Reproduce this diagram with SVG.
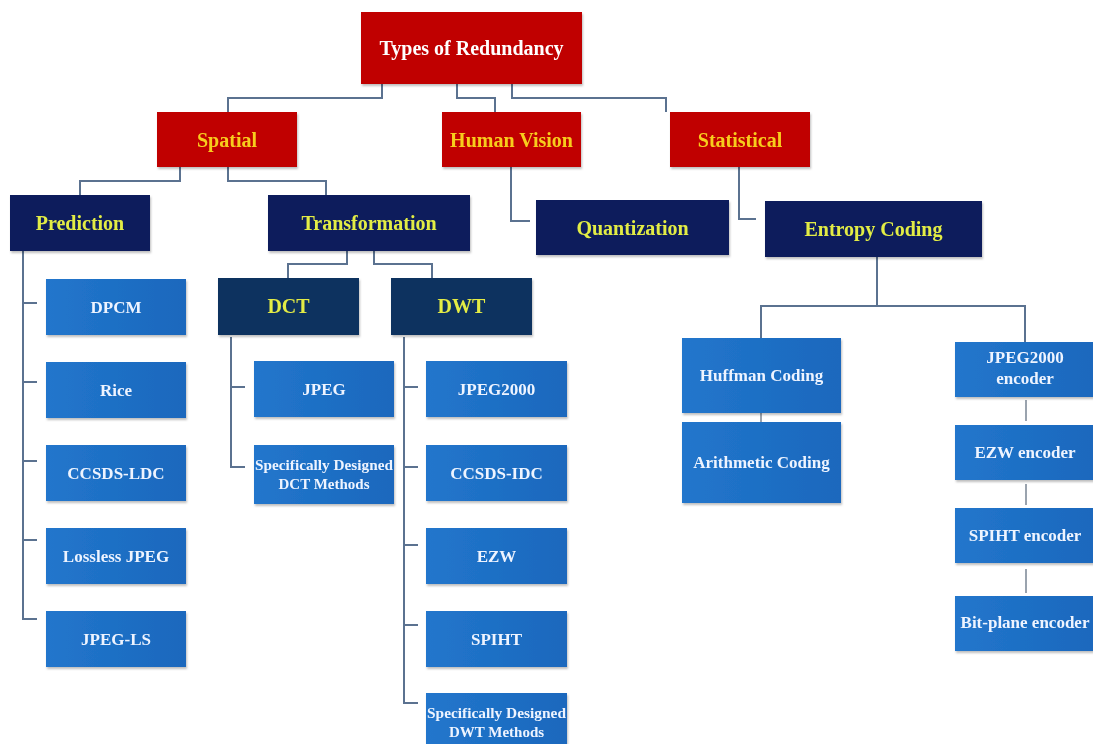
<svg xmlns="http://www.w3.org/2000/svg" width="1093" height="744" viewBox="0 0 1093 744">
<style>
text{font-family:"Liberation Serif","Times New Roman",serif;font-weight:bold;text-anchor:middle}
.red{fill:#C00000}
.navy{fill:#0B1F5B}
.dnavy{fill:#0E305F}
.leaf{fill:url(#lg)}
.t1{fill:#FFFFFF;font-size:20px}
.t2{fill:#F7CD1F;font-size:20px}
.t3{fill:#E3EC45;font-size:20px}
.t4{fill:#EEF4FF;font-size:17px}
.t5{fill:#EEF4FF;font-size:15px}
.c{fill:none;stroke:#5B7290;stroke-width:2}
.c2{fill:none;stroke:#9AA3AE;stroke-width:2}
</style>
<defs>
<linearGradient id="lg" x1="0" y1="0" x2="1" y2="0">
<stop offset="0" stop-color="#2276CC"/>
<stop offset="1" stop-color="#1A68BD"/>
</linearGradient>
<filter id="sh" x="-5%" y="-5%" width="115%" height="120%">
<feDropShadow dx="1" dy="2" stdDeviation="1.2" flood-color="#000" flood-opacity="0.25"/>
</filter>
</defs>
<rect width="1093" height="744" fill="#FFFFFF"/>
<g id="connectors">
<path class="c" d="M382 84V98H228V112"/>
<path class="c" d="M457 84V98H495V112"/>
<path class="c" d="M512 84V98H666V112"/>
<path class="c" d="M180 167V181H80V195"/>
<path class="c" d="M228 167V181H326V195"/>
<path class="c" d="M511 167V221H530"/>
<path class="c" d="M739 167V219H756"/>
<path class="c" d="M23 251V619H37M23 303H37M23 382H37M23 461H37M23 540H37"/>
<path class="c" d="M347 251V264H288V278"/>
<path class="c" d="M374 251V264H432V278"/>
<path class="c" d="M231 337V467H245M231 387H245"/>
<path class="c" d="M404 337V703H418M404 387H418M404 467H418M404 545H418M404 625H418"/>
<path class="c" d="M877 257V306"/>
<path class="c" d="M761 338V306H1025V342"/>
<path class="c2" d="M761 413V422"/>
<path class="c2" d="M1026 400V421M1026 484V505M1026 569V593"/>
</g>
<g filter="url(#sh)">
<g id="root"><rect class="red" x="361" y="12" width="221" height="72"/><text class="t1" x="471.5" y="55">Types of Redundancy</text></g>
<g id="spatial"><rect class="red" x="157" y="112" width="140" height="55"/><text class="t2" x="227" y="147">Spatial</text></g>
<g id="human-vision"><rect class="red" x="442" y="112" width="139" height="55"/><text class="t2" x="511.5" y="147">Human Vision</text></g>
<g id="statistical"><rect class="red" x="670" y="112" width="140" height="55"/><text class="t2" x="740" y="147">Statistical</text></g>
<g id="prediction"><rect class="navy" x="10" y="195" width="140" height="56"/><text class="t3" x="80" y="230">Prediction</text></g>
<g id="transformation"><rect class="navy" x="268" y="195" width="202" height="56"/><text class="t3" x="369" y="230">Transformation</text></g>
<g id="quantization"><rect class="navy" x="536" y="200" width="193" height="55"/><text class="t3" x="632.5" y="235">Quantization</text></g>
<g id="entropy-coding"><rect class="navy" x="765" y="201" width="217" height="56"/><text class="t3" x="873.5" y="236">Entropy Coding</text></g>
<g id="dct"><rect class="dnavy" x="218" y="278" width="141" height="57"/><text class="t3" x="288.5" y="313">DCT</text></g>
<g id="dwt"><rect class="dnavy" x="391" y="278" width="141" height="57"/><text class="t3" x="461.5" y="313">DWT</text></g>
<g id="dpcm"><rect class="leaf" x="46" y="279" width="140" height="56"/><text class="t4" x="116" y="313">DPCM</text></g>
<g id="rice"><rect class="leaf" x="46" y="362" width="140" height="56"/><text class="t4" x="116" y="396">Rice</text></g>
<g id="ccsds-ldc"><rect class="leaf" x="46" y="445" width="140" height="56"/><text class="t4" x="116" y="479">CCSDS-LDC</text></g>
<g id="lossless-jpeg"><rect class="leaf" x="46" y="528" width="140" height="56"/><text class="t4" x="116" y="562">Lossless JPEG</text></g>
<g id="jpeg-ls"><rect class="leaf" x="46" y="611" width="140" height="56"/><text class="t4" x="116" y="645">JPEG-LS</text></g>
<g id="jpeg"><rect class="leaf" x="254" y="361" width="140" height="56"/><text class="t4" x="324" y="395">JPEG</text></g>
<g id="spec-dct"><rect class="leaf" x="254" y="445" width="140" height="59"/><text class="t5" x="324" y="470" textLength="138" lengthAdjust="spacingAndGlyphs">Specifically Designed</text><text class="t5" x="324" y="489">DCT Methods</text></g>
<g id="jpeg2000"><rect class="leaf" x="426" y="361" width="141" height="56"/><text class="t4" x="496.5" y="395">JPEG2000</text></g>
<g id="ccsds-idc"><rect class="leaf" x="426" y="445" width="141" height="56"/><text class="t4" x="496.5" y="479">CCSDS-IDC</text></g>
<g id="ezw"><rect class="leaf" x="426" y="528" width="141" height="56"/><text class="t4" x="496.5" y="562">EZW</text></g>
<g id="spiht"><rect class="leaf" x="426" y="611" width="141" height="56"/><text class="t4" x="496.5" y="645">SPIHT</text></g>
<g id="spec-dwt"><rect class="leaf" x="426" y="693" width="141" height="60"/><text class="t5" x="496.5" y="718" textLength="139" lengthAdjust="spacingAndGlyphs">Specifically Designed</text><text class="t5" x="496.5" y="737">DWT Methods</text></g>
<g id="huffman"><rect class="leaf" x="682" y="338" width="159" height="75"/><text class="t4" x="761.5" y="381">Huffman Coding</text></g>
<g id="arithmetic"><rect class="leaf" x="682" y="422" width="159" height="81"/><text class="t4" x="761.5" y="468">Arithmetic Coding</text></g>
<g id="jpeg2000-encoder"><rect class="leaf" x="955" y="342" width="140" height="55"/><text class="t4" x="1025" y="363">JPEG2000</text><text class="t4" x="1025" y="384">encoder</text></g>
<g id="ezw-encoder"><rect class="leaf" x="955" y="425" width="140" height="55"/><text class="t4" x="1025" y="458">EZW encoder</text></g>
<g id="spiht-encoder"><rect class="leaf" x="955" y="508" width="140" height="55"/><text class="t4" x="1025" y="541">SPIHT encoder</text></g>
<g id="bitplane-encoder"><rect class="leaf" x="955" y="596" width="140" height="55"/><text class="t4" x="1025" y="628">Bit-plane encoder</text></g>
</g>
</svg>
